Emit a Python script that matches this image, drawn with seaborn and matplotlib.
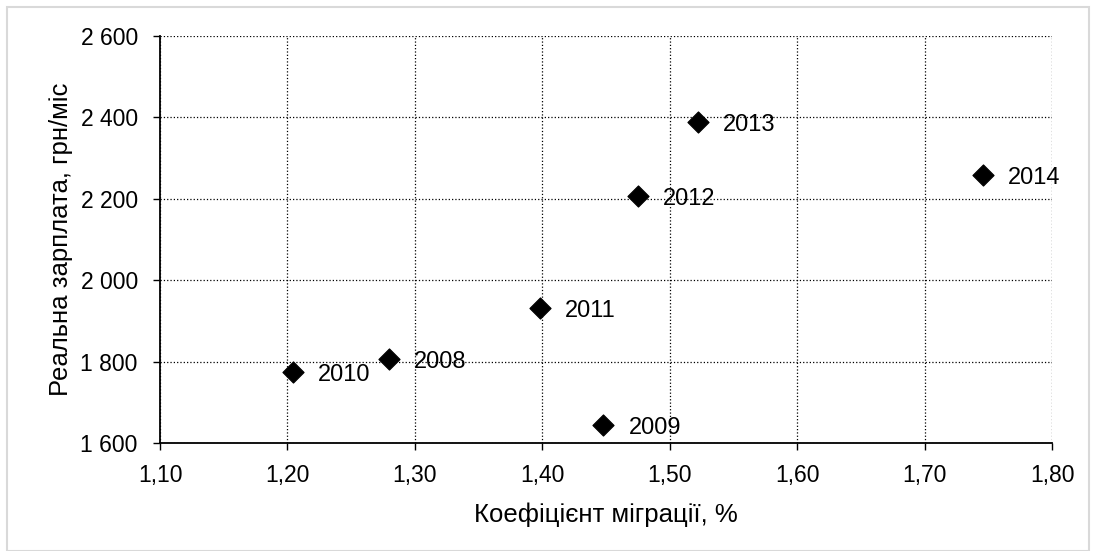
import numpy as np
import pandas as pd
import seaborn as sns
import matplotlib.pyplot as plt
from matplotlib.ticker import FuncFormatter, MultipleLocator
from matplotlib.patches import Rectangle

years = ['2008', '2009', '2010', '2011', '2012', '2013', '2014']
migration = [1.280, 1.448, 1.204, 1.398, 1.475, 1.522, 1.746]
salary = [1806, 1644, 1774, 1932, 2207, 2389, 2258]

df = pd.DataFrame({'year': years, 'migration': migration, 'salary': salary})

sns.set_theme(style='white')
plt.rcParams['font.family'] = ['Liberation Sans', 'DejaVu Sans']

fig = plt.figure(figsize=(10.96, 5.51), dpi=100)
ax = fig.add_axes([160 / 1096, 1 - 443 / 551, (1052 - 160) / 1096, (443 - 36) / 551])

sns.scatterplot(data=df, x='migration', y='salary', marker='D', s=115,
                color='black', edgecolor='black', ax=ax, zorder=3, legend=False)

# year labels next to the points
for _, r in df.iterrows():
    ax.annotate(r['year'], (r['migration'], r['salary']), xytext=(18, -2),
                textcoords='offset points', fontsize=17, va='center', ha='left',
                color='black')

ax.set_xlim(1.10, 1.80)
ax.set_ylim(1600, 2600)
ax.xaxis.set_major_locator(MultipleLocator(0.1))
ax.yaxis.set_major_locator(MultipleLocator(200))
ax.xaxis.set_major_formatter(FuncFormatter(lambda v, p: f'{v:.2f}'.replace('.', ',')))
ax.yaxis.set_major_formatter(FuncFormatter(lambda v, p: f'{int(round(v)):,}'.replace(',', ' ')))

ax.grid(True, color='black', linestyle=':', linewidth=0.9)
ax.set_axisbelow(True)
for side in ['top', 'right']:
    ax.spines[side].set_visible(False)
for side in ['left', 'bottom']:
    ax.spines[side].set_color('black')
    ax.spines[side].set_linewidth(1.3)

ax.tick_params(axis='both', which='major', direction='out', length=5, width=1,
               color='black', labelsize=16.5, labelcolor='black',
               bottom=True, left=True)
ax.tick_params(axis='y', pad=11)
ax.tick_params(axis='x', pad=10)

ax.set_xlabel('Коефіцієнт міграції, %', fontsize=18.5, color='black', labelpad=11)
ax.set_ylabel('Реальна зарплата, грн/міс', fontsize=18.5, color='black', labelpad=5)

# light border round the whole chart
fig.patches.append(Rectangle((7 / 1096, 0.0), 1 - 14 / 1096, 1 - 7 / 551,
                             transform=fig.transFigure, fill=False,
                             edgecolor='#d9d9d9', linewidth=1.5))

fig.savefig('out.png', dpi=100)
